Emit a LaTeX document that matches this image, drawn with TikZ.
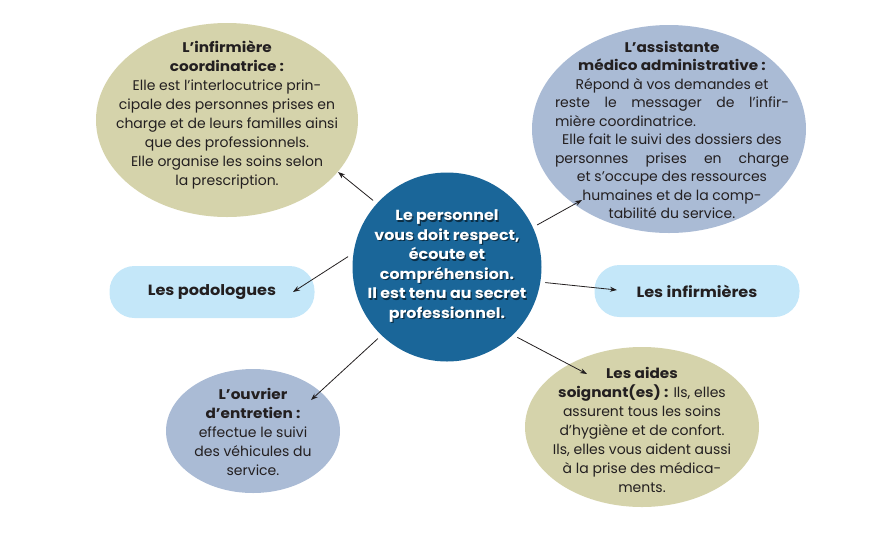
\documentclass[tikz,border=0pt]{standalone}
\usepackage{fontspec}
\setmainfont{Poppins}[BoldFeatures={FakeStretch=1.09}]
\usetikzlibrary{shapes.geometric,arrows.meta}
\definecolor{khaki}{HTML}{D5D3AB}
\definecolor{greyblue}{HTML}{AABBD5}
\definecolor{paleblue}{HTML}{C4E7F9}
\definecolor{deepblue}{HTML}{1A6699}
\definecolor{ink}{HTML}{231F20}
\begin{document}
\begin{tikzpicture}[x=1pt,y=-1pt,
  oval/.style={ellipse, draw=none, inner sep=0pt},
  txt/.style={align=center, text=ink, inner sep=0pt, font=\fontsize{14}{19}\selectfont},
  pill/.style={rounded corners=25pt, minimum width=205pt, minimum height=52pt, fill=paleblue, text=ink, font=\fontsize{14.8}{19}\selectfont\bfseries},
  arr/.style={-{Stealth[length=7pt,width=5pt]}, line width=0.8pt, draw=ink},
  ctext/.style={align=center, inner sep=0pt, font=\fontsize{14.6}{19.5}\selectfont\bfseries}]
\useasboundingbox (0,0) rectangle (892,539);
% shapes
\node[oval, fill=khaki, minimum width=262pt, minimum height=194pt] (coord) at (227,120) {};
\node[oval, fill=greyblue, minimum width=274pt, minimum height=208pt] (assist) at (669,129) {};
\node[oval, fill=greyblue, minimum width=174pt, minimum height=124pt] (ouvrier) at (253,431) {};
\node[oval, fill=khaki, minimum width=234pt, minimum height=160pt] (aides) at (642,427) {};
\node[pill] (podo) at (212,292) {Les podologues};
\node[pill] (infir) at (697,291) {Les infirmières};
\node[circle, fill=deepblue, minimum size=189pt, inner sep=0pt, outer sep=5pt] (centre) at (447,267) {};
% texts
\node[txt] (coordtxt) at (227,115) {\textbf{L’infirmière}\\\textbf{coordinatrice :}\\Elle est l’interlocutrice prin-\\cipale des personnes prises en\\charge et de leurs familles ainsi\\que des professionnels.\\Elle organise les soins selon\\la prescription.};
\node[txt, font=\fontsize{14}{18.5}\selectfont] (assisttxt) at (672,130) {\textbf{L’assistante}\\\textbf{médico administrative :}\\Répond à vos demandes et\\\makebox[234pt][s]{reste le messager de l’infir-}\\\makebox[234pt][l]{mière coordinatrice.}\\Elle fait le suivi des dossiers des\\\makebox[234pt][s]{personnes prises en charge}\\et s’occupe des ressources\\humaines et de la comp-\\tabilité du service.};
\node[txt] (ouvriertxt) at (253,432) {\textbf{L’ouvrier}\\\textbf{d’entretien :}\\effectue le suivi\\des véhicules du\\service.};
\node[txt] (aidestxt) at (642,430) {\textbf{Les aides}\\\textbf{soignant(es) :} Ils, elles\\assurent tous les soins\\d’hygiène et de confort.\\Ils, elles vous aident aussi\\à la prise des médica-\\ments.};
\node[ctext, text=black, opacity=0.55] (centreshadow) at (448.3,267.3) {Le personnel\\vous doit respect,\\écoute et\\compréhension.\\Il est tenu au secret\\professionnel.};
\node[ctext, text=white] (centretxt) at (447,266) {Le personnel\\vous doit respect,\\écoute et\\compréhension.\\Il est tenu au secret\\professionnel.};
% arrow heads
\coordinate (h1) at (338,172);
\coordinate (h2) at (582,200);
\coordinate (h3) at (293,292);
\coordinate (h4) at (617,290);
\coordinate (h5) at (311,400);
\coordinate (h6) at (587,374);
\draw[arr] (centre.138) -- (h1);
\draw[arr] (centre.25) -- (h2);
\draw[arr] (centre.174) -- (h3);
\draw[arr] (centre.351) -- (h4);
\draw[arr] (centre.226) -- (h5);
\draw[arr] (centre.315) -- (h6);
\end{tikzpicture}
\end{document}
